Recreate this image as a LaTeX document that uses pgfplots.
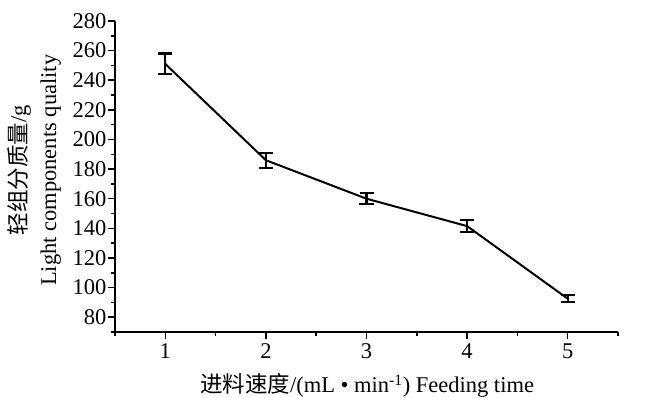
\documentclass[border=0pt]{standalone}
\usepackage{pgfplots}
\pgfplotsset{compat=1.18}
\usepackage{fontspec}
\setmainfont{Liberation Serif}
\newfontfamily\cjk{Noto Sans CJK SC}
\begin{document}
\begin{tikzpicture}
\useasboundingbox (-115bp,-66bp) rectangle (530bp,332bp);
\begin{axis}[
  scale only axis, width=503bp, height=311bp,
  xmin=0.5, xmax=5.5, ymin=70, ymax=280,
  axis lines*=left, axis line style={-, line width=1.5bp},
  xtick={1,2,3,4,5}, minor xtick={0.5,1.5,2.5,3.5,4.5,5.5},
  ytick={80,100,...,280}, minor ytick={70,90,...,270},
  tick align=outside, major tick length=7bp, minor tick length=4bp,
  every tick/.style={line width=1.5bp, black},
  /pgf/number format/assume math mode=true,
  tick label style={font=\fontsize{22.5bp}{26bp}\selectfont},
  yticklabel style={xshift=2bp},
  xticklabel style={yshift=-1bp},
  label style={font=\fontsize{22.5bp}{30bp}\selectfont},
  xlabel={{\cjk 进料速度}/(mL • min\textsuperscript{-1}) Feeding time},
  ylabel={{\cjk 轻组分质量}/g\\Light components quality},
  ylabel style={align=center, at={(axis description cs:-0.161,0.52)}, anchor=center, rotate=0},
  xlabel style={at={(axis description cs:0.501,-0.172)}, anchor=center},
  clip=false,
]
\addplot[black, line width=2bp, mark=none,
  error bars/.cd, y dir=both, y explicit,
  error bar style={line width=2.2bp},
  error mark options={rotate=90, mark size=7bp, line width=2.2bp}]
  coordinates {
  (1,251) +- (0,7)
  (2,186) +- (0,5)
  (3,160) +- (0,3.8)
  (4,141.5) +- (0,4)
  (5,92.5) +- (0,2.3)
  };
\end{axis}
\end{tikzpicture}
\end{document}
